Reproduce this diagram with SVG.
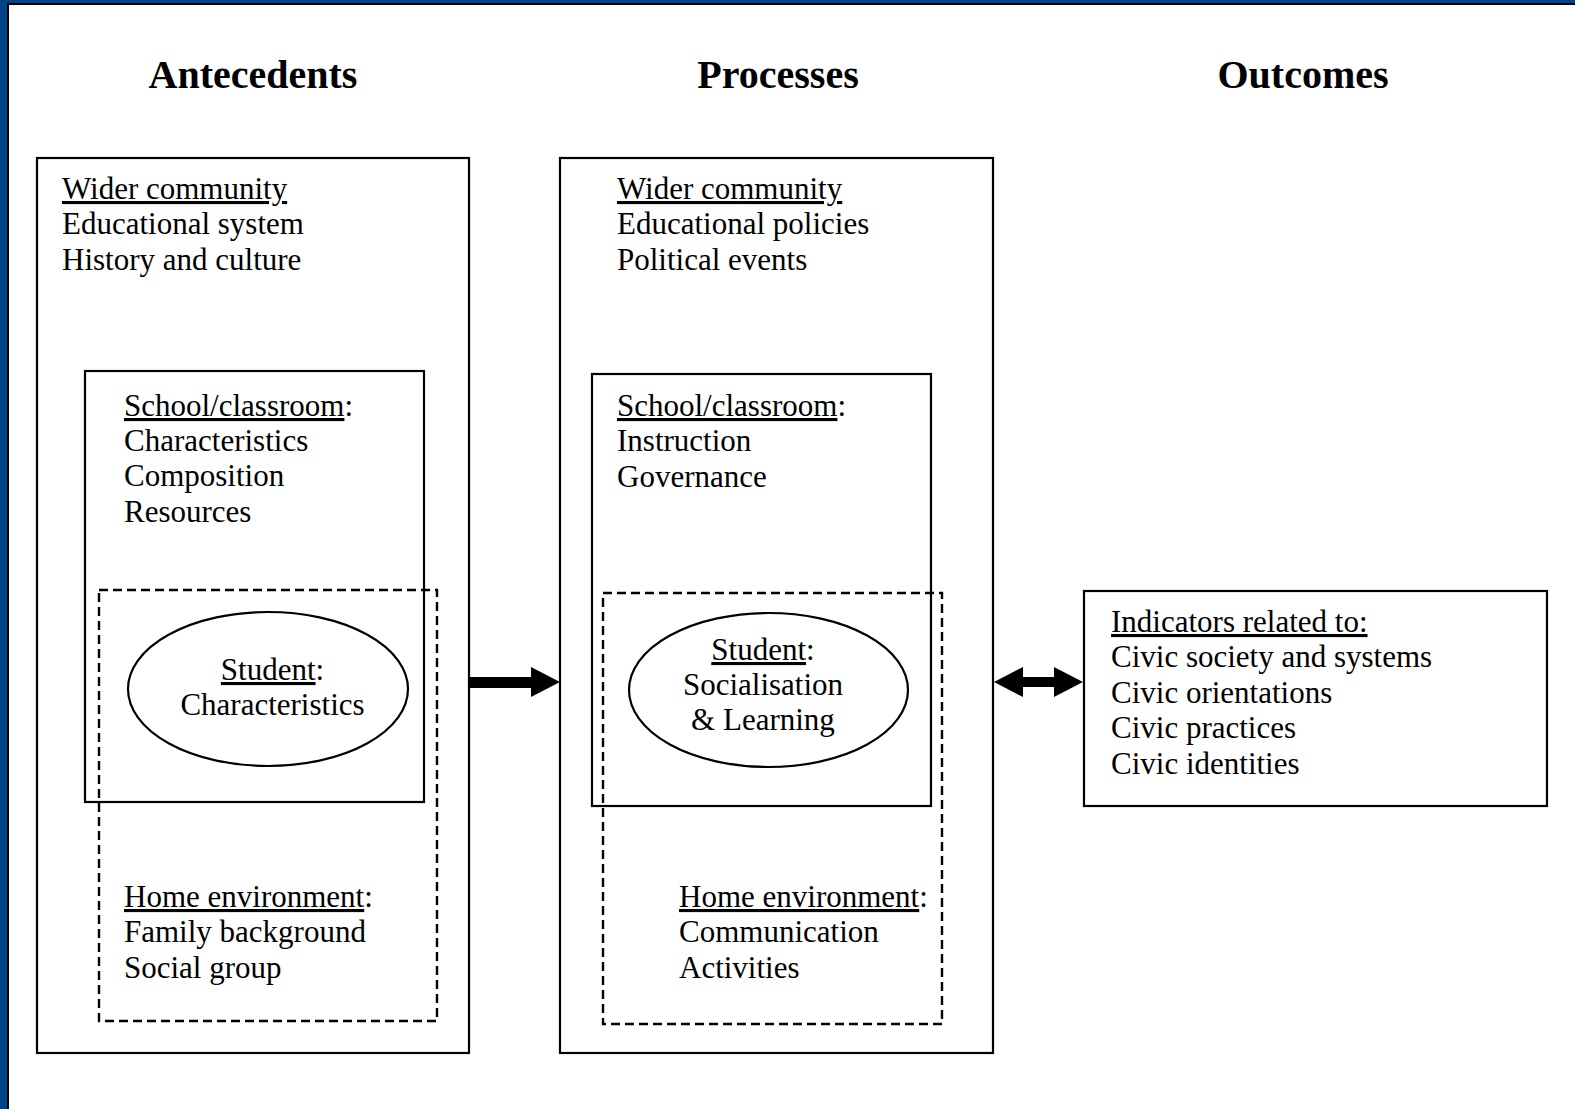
<svg xmlns="http://www.w3.org/2000/svg" width="1575" height="1109" viewBox="0 0 1575 1109">
<style>
text{font-family:"Liberation Serif","Times New Roman",serif;fill:#000}
.h{font-size:40px;font-weight:bold;text-anchor:middle}
.t{font-size:31px}
.c{text-anchor:middle}
.u{text-decoration:underline}
.box{fill:none;stroke:#000;stroke-width:2.2}
.dash{fill:none;stroke:#000;stroke-width:2.4;stroke-dasharray:9 5}
.arr{fill:#000;stroke:none}
</style>
<rect x="0" y="0" width="1575" height="1109" fill="#034388"/>
<rect x="7" y="3" width="1568" height="1106" fill="#000"/>
<rect x="9" y="5" width="1566" height="1104" fill="#fff"/>

<g id="headings">
<text class="h" x="253" y="88">Antecedents</text>
<text class="h" x="778" y="88">Processes</text>
<text class="h" x="1303" y="88">Outcomes</text>
</g>

<g id="antecedents">
<rect class="box" x="37" y="158" width="432" height="895"/>
<text class="t" x="62" y="199"><tspan class="u">Wider community</tspan></text>
<text class="t" x="62" y="234">Educational system</text>
<text class="t" x="62" y="270">History and culture</text>
</g>
<g id="ante-school">
<rect class="box" x="85" y="371" width="339" height="431"/>
<text class="t" x="124" y="416"><tspan class="u">School/classroom</tspan>:</text>
<text class="t" x="124" y="451">Characteristics</text>
<text class="t" x="124" y="486">Composition</text>
<text class="t" x="124" y="522">Resources</text>
</g>
<g id="ante-home">
<rect class="dash" x="99" y="590" width="338" height="431"/>
<text class="t" x="124" y="907"><tspan class="u">Home environment</tspan>:</text>
<text class="t" x="124" y="942">Family background</text>
<text class="t" x="124" y="978">Social group</text>
</g>
<g id="ante-student">
<ellipse class="box" cx="268" cy="689" rx="140" ry="77"/>
<text class="t c" x="272.5" y="680"><tspan class="u">Student</tspan>:</text>
<text class="t c" x="272.5" y="715">Characteristics</text>
</g>

<g id="processes">
<rect class="box" x="560" y="158" width="433" height="895"/>
<text class="t" x="617" y="199"><tspan class="u">Wider community</tspan></text>
<text class="t" x="617" y="234">Educational policies</text>
<text class="t" x="617" y="270">Political events</text>
</g>
<g id="proc-school">
<rect class="box" x="592" y="374" width="339" height="432"/>
<text class="t" x="617" y="416"><tspan class="u">School/classroom</tspan>:</text>
<text class="t" x="617" y="451">Instruction</text>
<text class="t" x="617" y="487">Governance</text>
</g>
<g id="proc-home">
<rect class="dash" x="603" y="593" width="339" height="431"/>
<text class="t" x="679" y="907"><tspan class="u">Home environment</tspan>:</text>
<text class="t" x="679" y="942">Communication</text>
<text class="t" x="679" y="978">Activities</text>
</g>
<g id="proc-student">
<ellipse class="box" cx="768.5" cy="690" rx="139.5" ry="77"/>
<text class="t c" x="763" y="660"><tspan class="u">Student</tspan>:</text>
<text class="t c" x="763" y="695">Socialisation</text>
<text class="t c" x="763" y="730">&amp; Learning</text>
</g>

<g id="outcomes">
<rect class="box" x="1084" y="591" width="463" height="215"/>
<text class="t" x="1111" y="632"><tspan class="u">Indicators related to:</tspan></text>
<text class="t" x="1111" y="667">Civic society and systems</text>
<text class="t" x="1111" y="703">Civic orientations</text>
<text class="t" x="1111" y="738">Civic practices</text>
<text class="t" x="1111" y="774">Civic identities</text>
</g>

<g id="connectors">
<polygon class="arr" points="470,677 531,677 531,667 560,682 531,697 531,688 470,688"/>
<polygon class="arr" points="994,682 1023,667 1023,677 1054,677 1054,667 1083,682 1054,697 1054,687 1023,687 1023,697"/>
</g>
</svg>
